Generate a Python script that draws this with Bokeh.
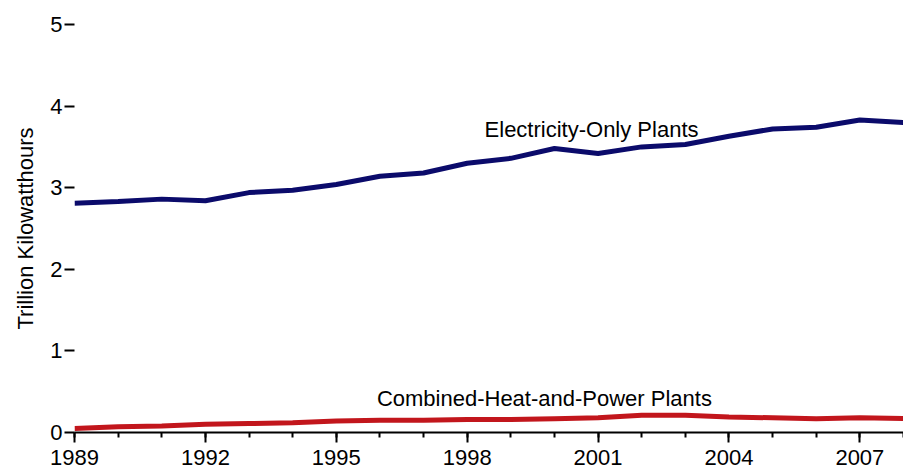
from bokeh.plotting import figure
from bokeh.models import FixedTicker, Label
from bokeh.embed import file_html
from bokeh.resources import INLINE

years = list(range(1989, 2009))
electricity_only = [2.81, 2.83, 2.86, 2.84, 2.94, 2.97, 3.04, 3.14, 3.18, 3.30,
                    3.36, 3.48, 3.42, 3.50, 3.53, 3.63, 3.72, 3.74, 3.83, 3.80]
chp = [0.05, 0.07, 0.08, 0.10, 0.11, 0.12, 0.14, 0.15, 0.15, 0.16,
       0.16, 0.17, 0.18, 0.21, 0.21, 0.19, 0.18, 0.17, 0.18, 0.17]
x_major_ticks = list(range(1989, 2008, 3))
y_ticks = [0, 1, 2, 3, 4, 5]

FONT = "Liberation Sans"
FS = "22px"
NAVY = "#0b0b6b"
RED = "#c2161c"

p = figure(width=903, height=470, x_range=(1989, 2008), y_range=(0, 5),
           output_backend="svg", toolbar_location=None,
           min_border_left=74, min_border_top=24, min_border_right=0, min_border_bottom=38)
p.outline_line_color = None
p.xgrid.grid_line_color = None
p.ygrid.grid_line_color = None
p.background_fill_color = "white"

p.line(years, electricity_only, line_color=NAVY, line_width=5)
p.line(years, chp, line_color=RED, line_width=5)

# x axis
p.xaxis.ticker = FixedTicker(ticks=x_major_ticks, minor_ticks=years)
p.xaxis.axis_line_color = "black"
p.xaxis.axis_line_width = 2
p.xaxis.major_tick_in = 0
p.xaxis.major_tick_out = 10
p.xaxis.major_tick_line_width = 2
p.xaxis.major_tick_line_color = "black"
p.xaxis.minor_tick_in = 0
p.xaxis.minor_tick_out = 5
p.xaxis.minor_tick_line_width = 2
p.xaxis.minor_tick_line_color = "black"
p.xaxis.major_label_standoff = 7
p.xaxis.major_label_text_line_height = 0.6
p.xaxis.major_label_text_font = FONT
p.xaxis.major_label_text_font_size = FS
p.xaxis.major_label_text_color = "black"

# y axis
p.yaxis.ticker = FixedTicker(ticks=y_ticks)
p.yaxis.axis_line_color = None
p.yaxis.major_tick_in = 0
p.yaxis.major_tick_out = 10
p.yaxis.major_tick_line_width = 2
p.yaxis.major_tick_line_color = "black"
p.yaxis.minor_tick_line_color = None
p.yaxis.major_label_standoff = 2
p.yaxis.major_label_text_font = FONT
p.yaxis.major_label_text_font_size = FS
p.yaxis.major_label_text_color = "black"
p.yaxis.axis_label = "Trillion Kilowatthours"
p.yaxis.axis_label_text_font = FONT
p.yaxis.axis_label_text_font_size = FS
p.yaxis.axis_label_text_font_style = "normal"
p.yaxis.axis_label_text_color = "black"
p.yaxis.axis_label_standoff = 9

p.add_layout(Label(x=2000.85, y=3.71, text="Electricity-Only Plants",
                   text_align="center", text_baseline="middle",
                   text_font=FONT, text_font_size=FS, text_color="black"))
p.add_layout(Label(x=1999.77, y=0.42, text="Combined-Heat-and-Power Plants",
                   text_align="center", text_baseline="middle",
                   text_font=FONT, text_font_size=FS, text_color="black"))

open("out.html", "w").write(file_html(p, INLINE))
